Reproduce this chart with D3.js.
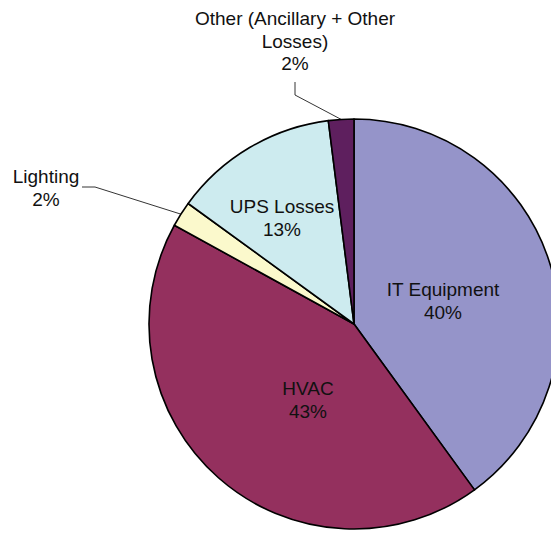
<!DOCTYPE html>
<html>
<head>
<meta charset="utf-8">
<script src="https://cdn.jsdelivr.net/npm/d3@7"></script>
<style>
  body { margin: 0; background: #fff; }
  text { font-family: "Liberation Sans", Arial, sans-serif; font-size: 19px; fill: #111; }
</style>
</head>
<body>
<svg width="551" height="533"></svg>
<script>
// data
var categories = ["IT Equipment", "HVAC", "Lighting", "UPS Losses", "Other (Ancillary + Other Losses)"];
var values = [40, 43, 2, 13, 2];
var colors = ["#9594c9", "#94305e", "#fbf9cc", "#cdebef", "#5e1f5e"];

var svg = d3.select("svg");
var cx = 354, cy = 324, R = 205;
var lineH = 22.5;

var pie = d3.pie().sort(null).value(function(d) { return d; });
var arcs = pie(values);
var arc = d3.arc().innerRadius(0).outerRadius(R);

var g = svg.append("g").attr("transform", "translate(" + [cx, cy] + ")");

g.selectAll("path.slice")
  .data(arcs)
  .enter().append("path")
  .attr("class", "slice")
  .attr("d", arc)
  .attr("fill", function(d, i) { return colors[i]; })
  .attr("stroke", "#000")
  .attr("stroke-width", 1.6)
  .attr("stroke-linejoin", "round");

// where each label's first baseline sits (relative to pie center)
var labelPos = {
  0: { x: 89, y: -28, lines: ["IT Equipment"] },
  1: { x: -46, y: 71, lines: ["HVAC"] },
  3: { x: -72, y: -111, lines: ["UPS Losses"] },
  2: { x: 46 - cx, y: 183 - cy, lines: ["Lighting"] },
  4: { x: 295 - cx, y: 25 - cy, lines: ["Other (Ancillary + Other", "Losses)"] }
};

Object.keys(labelPos).forEach(function(k) {
  var p = labelPos[k];
  var lines = p.lines.concat([values[k] + "%"]);
  var t = g.append("text").attr("text-anchor", "middle");
  lines.forEach(function(s, j) {
    t.append("tspan").attr("x", p.x).attr("y", p.y + j * lineH).text(s);
  });
});

// leader lines for the small outside slices
function edgePoint(d) {
  var a = (d.startAngle + d.endAngle) / 2;
  return [R * Math.sin(a), -R * Math.cos(a)];
}
function leader(points) {
  g.append("polyline")
    .attr("points", points.join(" "))
    .attr("fill", "none").attr("stroke", "#000").attr("stroke-width", 0.8);
}
leader([[82 - cx, 187 - cy], [95 - cx, 187 - cy], edgePoint(arcs[2])]);
leader([[295 - cx, 82 - cy], [295 - cx, 95 - cy], edgePoint(arcs[4])]);
</script>
</body>
</html>
